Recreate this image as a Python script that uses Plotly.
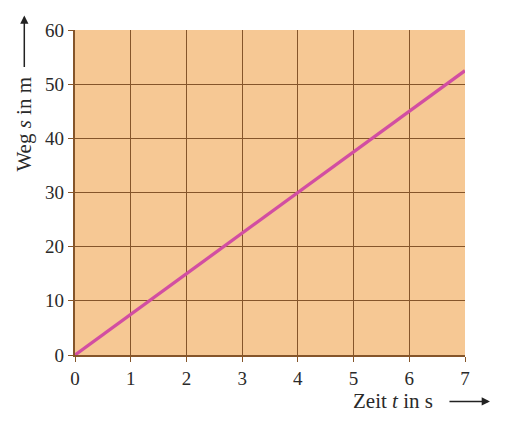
import plotly.graph_objects as go

# Zeit-Weg-Diagramm, gleichförmige Bewegung
zeit_s = [0, 7]
weg_m = [0, 52.5]
x_ticks = [0, 1, 2, 3, 4, 5, 6, 7]
y_ticks = [0, 10, 20, 30, 40, 50, 60]

GRID = "#85552a"
BG = "#f6c894"
FONT = "Liberation Serif"
TXT = "#2a2a2a"

fig = go.Figure()
fig.add_trace(go.Scatter(
    x=zeit_s, y=weg_m, mode="lines",
    line=dict(color="#d24ea2", width=3.3),
    showlegend=False, hoverinfo="skip",
))

axis_style = dict(
    showgrid=True, gridcolor=GRID, gridwidth=1.4,
    zeroline=False, showline=True, linecolor=GRID, linewidth=2.2, mirror=False,
    ticks="outside", ticklen=5, tickcolor=GRID, tickwidth=1.4,
    tickfont=dict(family=FONT, size=19, color=TXT),
)
fig.update_xaxes(range=[0, 7], tickvals=x_ticks, **axis_style)
fig.update_yaxes(range=[0, 60], tickvals=y_ticks, **axis_style)

# Achsenbeschriftungen mit Pfeilen
fig.add_annotation(
    xref="paper", yref="paper", x=0.815, y=-0.143, text="Zeit <i>t</i> in s",
    showarrow=False, font=dict(family=FONT, size=21, color=TXT), xanchor="center", yanchor="middle",
)
fig.add_annotation(
    xref="paper", yref="paper", x=1.064, y=-0.143, ax=-42, ay=0, text="",
    showarrow=True, arrowhead=2, arrowsize=1.1, arrowwidth=1.5, arrowcolor="#222",
)
fig.add_annotation(
    xref="paper", yref="paper", x=-0.13, y=0.71, text="Weg <i>s</i> in m",
    textangle=-90, showarrow=False, font=dict(family=FONT, size=21, color=TXT),
    xanchor="center", yanchor="middle",
)
fig.add_annotation(
    xref="paper", yref="paper", x=-0.13, y=1.045, ax=0, ay=53, text="",
    showarrow=True, arrowhead=2, arrowsize=1.1, arrowwidth=1.5, arrowcolor="#222",
)

# die Seite hat 8 px Rand, daher Breite/Höhe etwas kleiner
fig.update_layout(
    width=508, height=417,
    margin=dict(l=67, r=51, t=12, b=70),
    plot_bgcolor=BG, paper_bgcolor="white",
)

fig.write_html("out.html")
